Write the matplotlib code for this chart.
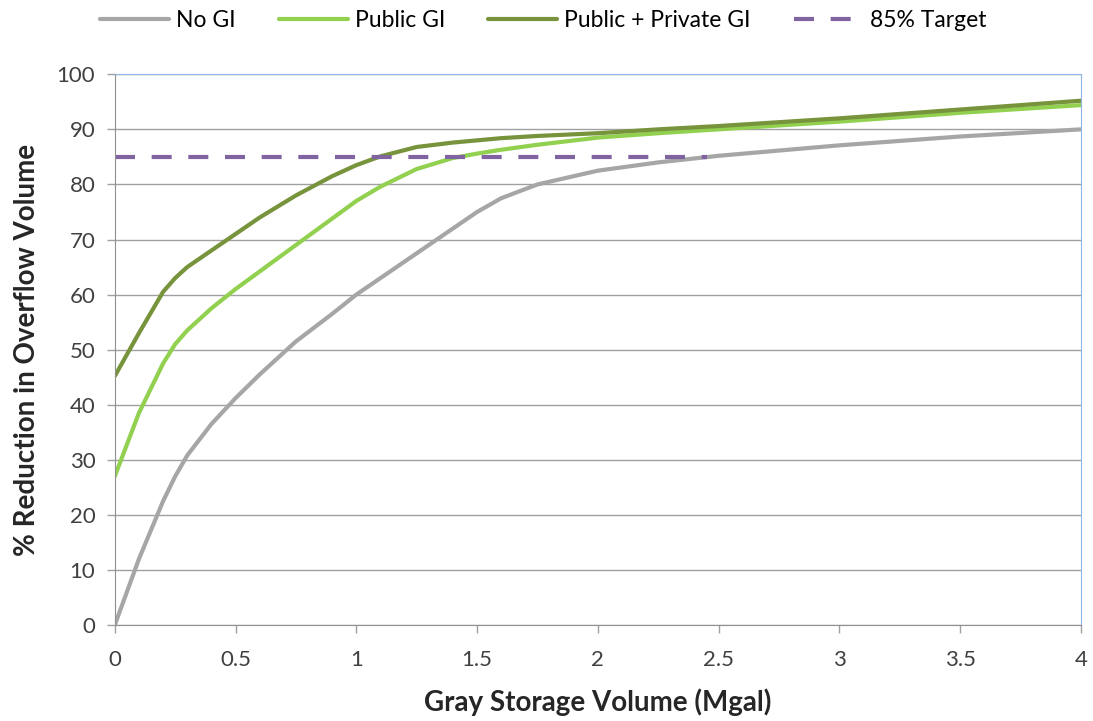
import matplotlib
matplotlib.use("Agg")
import matplotlib.pyplot as plt

# storage volume (Mgal) where values were read
storage = [0, 0.1, 0.2, 0.25, 0.3, 0.4, 0.5, 0.6, 0.75, 0.9, 1.0, 1.1, 1.25,
           1.4, 1.5, 1.6, 1.75, 2.0, 2.25, 2.5, 3.0, 3.5, 4.0]

no_gi = [0, 12, 22.5, 27, 30.8, 36.5, 41.2, 45.5, 51.5, 56.5, 60, 63, 67.5,
         72, 75, 77.5, 80, 82.5, 84, 85.2, 87.1, 88.7, 90]
public_gi = [27, 38.5, 47.5, 51, 53.5, 57.5, 61, 64.2, 69, 73.8, 77, 79.6, 82.8,
             84.8, 85.6, 86.3, 87.2, 88.5, 89.3, 90, 91.4, 93, 94.4]
public_private_gi = [45.2, 53, 60.5, 63, 65, 68, 71, 74, 78, 81.5, 83.5, 85.1, 86.8,
                     87.6, 88, 88.4, 88.8, 89.3, 90, 90.6, 92, 93.6, 95.2]

target_x = [0, 2.45]
target_y = [85, 85]

plt.rcParams['font.family'] = ['Lato', 'DejaVu Sans']

fig = plt.figure(figsize=(10.93, 7.21), dpi=100)
ax = fig.add_axes([0.105, 0.133, 0.884, 0.764])

ax.plot(storage, no_gi, color='#A6A6A6', lw=3, label='No GI',
        solid_capstyle='round', solid_joinstyle='round')
ax.plot(storage, public_gi, color='#92D050', lw=3, label='Public GI',
        solid_capstyle='round', solid_joinstyle='round')
ax.plot(storage, public_private_gi, color='#77933C', lw=3, label='Public + Private GI',
        solid_capstyle='round', solid_joinstyle='round')
ax.plot(target_x, target_y, color='#8064A2', lw=3, ls=(0, (4.8, 4)), label='85% Target')

ax.set_xlim(0, 4)
ax.set_ylim(0, 100)
ax.set_xticks([0, 0.5, 1, 1.5, 2, 2.5, 3, 3.5, 4])
ax.set_xticklabels(['0', '0.5', '1', '1.5', '2', '2.5', '3', '3.5', '4'])
ax.set_yticks(range(0, 101, 10))
ax.grid(axis='y', color='#A0A0A0', lw=1)
ax.set_axisbelow(True)
ax.tick_params(labelsize=16, colors='#404040', direction='out', length=6, width=1)
ax.tick_params(axis='both', color='#A0A0A0')
ax.tick_params(axis='x', pad=12)
ax.tick_params(axis='y', pad=8)

for s in ['left', 'bottom']:
    ax.spines[s].set_color('#909090')
for s in ['top', 'right']:
    ax.spines[s].set_color('#8EB4E3')

ax.set_xlabel('Gray Storage Volume (Mgal)', fontsize=20, fontweight='bold', color='#262626')
ax.set_ylabel('% Reduction in Overflow Volume', fontsize=20, fontweight='bold', color='#262626')
ax.xaxis.set_label_coords(0.5, -0.115)
ax.yaxis.set_label_coords(-0.077, 0.5)

fig.legend(loc='upper center', bbox_to_anchor=(0.497, 1.015), ncol=4, frameon=False,
           fontsize=16.5, handlelength=3, columnspacing=1.9, handletextpad=0.3)

fig.savefig('out.png', dpi=100)
